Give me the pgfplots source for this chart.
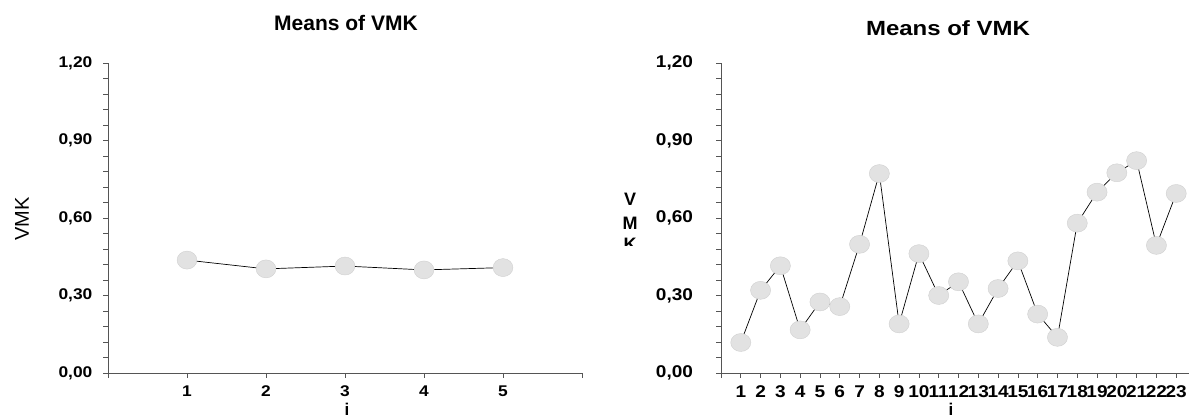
\documentclass[border=0pt]{standalone}
\usepackage{fontspec}
\setmainfont{Liberation Sans}
\usepackage{pgfplots}
\usepackage{pgfplotstable}
\pgfplotsset{compat=1.18}
\definecolor{dotfill}{RGB}{226,226,226}
\definecolor{dotedge}{RGB}{208,208,208}
\definecolor{axisgray}{RGB}{85,85,85}

% means of VMK, 5 groups
\pgfplotstableread{
i vmk
1 0.437
2 0.403
3 0.414
4 0.399
5 0.408
}\leftdata
% means of VMK, 23 groups
\pgfplotstableread{
i vmk
1 0.118
2 0.320
3 0.415
4 0.167
5 0.275
6 0.257
7 0.498
8 0.772
9 0.190
10 0.462
11 0.300
12 0.353
13 0.190
14 0.327
15 0.434
16 0.228
17 0.138
18 0.580
19 0.700
20 0.775
21 0.822
22 0.494
23 0.695
}\rightdata

\pgfplotsset{vmk/.style={
    scale only axis, height=310pt,
    ymin=0, ymax=1.2,
    axis x line=bottom, axis y line=left,
    axis line style={-, axisgray, line width=0.8pt},
    tick align=outside,
    tick style={axisgray, line width=0.7pt},
    major tick length=5pt, minor tick length=5pt,
    ytick={0,0.3,0.6,0.9,1.2},
    yticklabels={{0,00},{0,30},{0,60},{0,90},{1,20}},
    minor y tick num=4,
    xticklabel style={yshift=-4pt},
    clip=false,
}}

\begin{document}
\begin{tikzpicture}
\useasboundingbox (0,0) rectangle (1189pt,419pt);

\begin{axis}[vmk,
    at={(108pt,46pt)}, anchor=south west,
    width=474pt,
    xmin=0, xmax=6,
    xtick={0,...,6}, xticklabels={,1,2,3,4,5,},
    tick label style={font=\fontsize{15.5}{15.5}\selectfont\bfseries, xscale=1.12},
    yticklabel style={xshift=-6pt},
]
    \addplot[only marks, mark=*, mark size=9pt,
        mark options={fill=dotfill, draw=dotedge, xscale=1.1}] table[x=i, y=vmk] {\leftdata};
    \addplot[black, line width=0.7pt, mark=none] table[x=i, y=vmk] {\leftdata};
\end{axis}

\begin{axis}[vmk,
    at={(721pt,46pt)}, anchor=south west,
    width=475pt,
    xmin=0, xmax=24,
    xtick={0,...,24},
    xticklabels={,1,2,3,4,5,6,7,8,9,10,11,12,13,14,15,16,17,18,19,20,21,22,23,},
    tick label style={font=\fontsize{17}{17}\selectfont\bfseries, xscale=1.12},
    yticklabel style={xshift=-17pt},
]
    \addplot[only marks, mark=*, mark size=9pt,
        mark options={fill=dotfill, draw=dotedge, xscale=1.12}] table[x=i, y=vmk] {\rightdata};
    \addplot[black, line width=0.7pt, mark=none] table[x=i, y=vmk] {\rightdata};
\end{axis}

% titles and axis labels
\node[font=\fontsize{21}{21}\selectfont\bfseries] at (346pt,396pt) {Means of VMK};
\node[font=\fontsize{20.5}{20.5}\selectfont\bfseries, xscale=1.17] at (948pt,391pt) {Means of VMK};
\node[font=\fontsize{20}{20}\selectfont, rotate=90] at (22pt,200pt) {VMK};
\node[font=\fontsize{17}{17}\selectfont\bfseries] at (347pt,10pt) {i};
\node[font=\fontsize{17}{17}\selectfont\bfseries] at (951pt,10pt) {i};
\begin{scope}
    \clip (600pt,173pt) rectangle (660pt,240pt);
    \node[font=\fontsize{18}{18}\selectfont\bfseries] at (630pt,220pt) {V};
    \node[font=\fontsize{18}{18}\selectfont\bfseries] at (630pt,196pt) {M};
    \node[font=\fontsize{18}{18}\selectfont\bfseries] at (630pt,175pt) {K};
\end{scope}
\end{tikzpicture}
\end{document}
